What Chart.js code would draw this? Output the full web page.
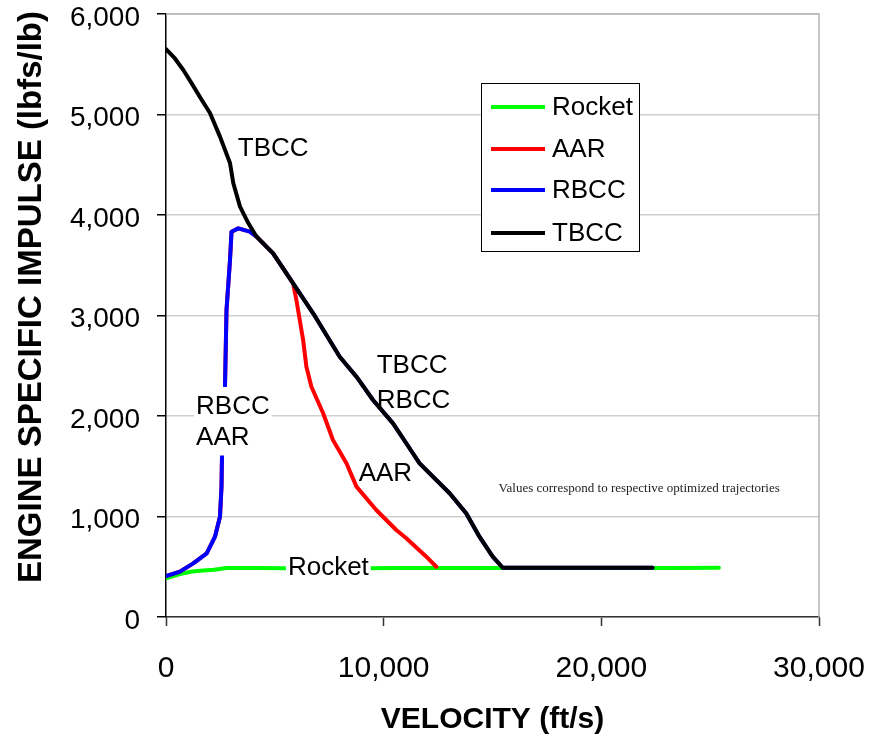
<!DOCTYPE html>
<html>
<head>
<meta charset="utf-8">
<script src="https://cdn.jsdelivr.net/npm/chart.js@4.4.1/dist/chart.umd.min.js"></script>
<style>
  html, body { margin: 0; padding: 0; background: #fff; }
</style>
</head>
<body>
<canvas id="isp" width="870" height="738"></canvas>
<script>
// axis ticks
const velocityTicks = [0, 10000, 20000, 30000];
const ispTicks = [0, 1000, 2000, 3000, 4000, 5000, 6000];

// engine specific impulse (lbfs/lb) vs velocity (ft/s)
const rocketVel = [0, 640, 1200, 1710, 2200, 2780, 4000, 5500, 7000, 9000, 11000, 13000, 15000, 17000, 19000, 21000, 23000, 25400];
const rocketIsp = [385, 428, 452, 462, 470, 488, 488, 485, 488, 485, 488, 487, 488, 488, 487, 488, 488, 490];

const aarVel = [0, 640, 1250, 1870, 2250, 2480, 2550, 2600, 2710, 2780, 2940, 3010, 3320, 3850, 4160, 4920, 5840, 5990, 6300, 6450, 6680, 7220, 7670, 8290, 8750, 9660, 10580, 11040, 11960, 12420];
const aarIsp = [408, 451, 534, 634, 799, 998, 1297, 1960, 2291, 3055, 3552, 3834, 3867, 3834, 3784, 3619, 3320, 3154, 2756, 2490, 2291, 2027, 1761, 1529, 1297, 1065, 866, 783, 600, 500];

const rbccVel = [0, 640, 1250, 1870, 2250, 2480, 2550, 2600, 2710, 2780, 2940, 3010, 3320, 3850, 4160, 4920, 5840, 6760, 7980, 8750, 9510, 10430, 11190, 11650, 13030, 13790, 14400, 15010, 15470, 22350];
const rbccIsp = [408, 451, 534, 634, 799, 998, 1297, 1960, 2291, 3055, 3552, 3834, 3867, 3834, 3784, 3619, 3320, 3022, 2590, 2391, 2159, 1927, 1679, 1529, 1231, 1032, 799, 600, 490, 490];

const tbccVel = [0, 400, 795, 1180, 1600, 2020, 2480, 2940, 3090, 3400, 3780, 4160, 4920, 5840, 6760, 7980, 8750, 9510, 10430, 11190, 11650, 13030, 13790, 14400, 15010, 15470, 22350];
const tbccIsp = [5650, 5560, 5443, 5310, 5160, 5015, 4780, 4517, 4318, 4083, 3920, 3784, 3619, 3320, 3022, 2590, 2391, 2159, 1927, 1679, 1529, 1231, 1032, 799, 600, 490, 490];

const seriesNames = ['Rocket', 'AAR', 'RBCC', 'TBCC'];
const seriesColors = ['#00ff00', '#ff0000', '#0000ff', '#000000'];

// in-plot labels, anchored at their left edge / vertical middle in data units
const plotNotes = [
  { text: 'TBCC', v: 3300, isp: 4667, bg: false },
  { text: 'RBCC', v: 1380, isp: 2100, bg: true },
  { text: 'AAR', v: 1380, isp: 1796, bg: true },
  { text: 'TBCC', v: 9680, isp: 2507, bg: false },
  { text: 'RBCC', v: 9680, isp: 2159, bg: false },
  { text: 'AAR', v: 8850, isp: 1433, bg: false },
  { text: 'Rocket', v: 5600, isp: 498, bg: true }
];
const footNote = 'Values correspond to respective optimized trajectories';

const SANS = '"Liberation Sans", Arial, sans-serif';
Chart.defaults.font.family = SANS;
Chart.defaults.color = '#000';

function toPoints(xs, ys) {
  return xs.map((x, i) => ({ x: x, y: ys[i] }));
}

const seriesData = [
  toPoints(rocketVel, rocketIsp),
  toPoints(aarVel, aarIsp),
  toPoints(rbccVel, rbccIsp),
  toPoints(tbccVel, tbccIsp)
];

const datasets = seriesNames.map((name, i) => ({
  label: name,
  data: seriesData[i],
  borderColor: seriesColors[i],
  backgroundColor: seriesColors[i],
  borderWidth: 4,
  borderJoinStyle: 'round',
  borderCapStyle: 'round',
  pointRadius: 0,
  showLine: true,
  tension: 0,
  order: seriesNames.length - i
}));

// gray top/right frame of the plot area
const plotFrame = {
  id: 'plotFrame',
  beforeDatasetsDraw(chart) {
    const { ctx, chartArea: a } = chart;
    ctx.save();
    ctx.strokeStyle = '#b4b4b4';
    ctx.lineWidth = 1.5;
    ctx.beginPath();
    ctx.moveTo(a.left, a.top);
    ctx.lineTo(a.right, a.top);
    ctx.lineTo(a.right, a.bottom);
    ctx.stroke();
    ctx.restore();
  }
};

const plotText = {
  id: 'plotText',
  afterDatasetsDraw(chart) {
    const { ctx } = chart;
    const xs = chart.scales.x, ys = chart.scales.y;
    ctx.save();
    ctx.font = '26px ' + SANS;
    ctx.textBaseline = 'middle';
    ctx.textAlign = 'left';
    plotNotes.forEach((n) => {
      const px = xs.getPixelForValue(n.v);
      const py = ys.getPixelForValue(n.isp);
      if (n.bg) {
        const w = ctx.measureText(n.text).width;
        ctx.fillStyle = '#fff';
        ctx.fillRect(px - 2, py - 19, w + 4, 38);
      }
      ctx.fillStyle = '#000';
      ctx.fillText(n.text, px, py + 1);
    });
    ctx.font = '13px "Liberation Serif", "Times New Roman", serif';
    ctx.textAlign = 'center';
    ctx.fillStyle = '#222';
    ctx.fillText(footNote, xs.getPixelForValue(21740), ys.getPixelForValue(1274));
    ctx.restore();
  }
};

const boxLegend = {
  id: 'boxLegend',
  afterDraw(chart) {
    const { ctx } = chart;
    ctx.save();
    ctx.fillStyle = '#fff';
    ctx.fillRect(481, 83, 159, 169);
    ctx.strokeStyle = '#000';
    ctx.lineWidth = 1;
    ctx.strokeRect(481.5, 83.5, 158, 168);
    ctx.font = '26px ' + SANS;
    ctx.textBaseline = 'middle';
    ctx.textAlign = 'left';
    const rows = [107, 149, 190, 233];
    chart.data.datasets.forEach((ds, i) => {
      ctx.strokeStyle = ds.borderColor;
      ctx.lineWidth = 4;
      ctx.beginPath();
      ctx.moveTo(491, rows[i]);
      ctx.lineTo(545, rows[i]);
      ctx.stroke();
      ctx.fillStyle = '#000';
      ctx.fillText(ds.label, 552, rows[i] + 1);
    });
    ctx.restore();
  }
};

const yTitle = {
  id: 'yTitle',
  afterDraw(chart) {
    const { ctx } = chart;
    ctx.save();
    ctx.translate(31, 297);
    ctx.rotate(-Math.PI / 2);
    ctx.font = 'bold 33px ' + SANS;
    ctx.textAlign = 'center';
    ctx.textBaseline = 'middle';
    ctx.fillStyle = '#000';
    ctx.fillText('ENGINE SPECIFIC IMPULSE (lbfs/lb)', 0, 1);
    ctx.restore();
  }
};

new Chart(document.getElementById('isp'), {
  type: 'scatter',
  data: { datasets: datasets },
  options: {
    responsive: false,
    animation: false,
    locale: 'en-US',
    layout: { autoPadding: false, padding: { left: 0, top: 14, right: 51, bottom: 0 } },
    plugins: {
      legend: { display: false },
      tooltip: { enabled: false }
    },
    scales: {
      x: {
        type: 'linear',
        min: 0,
        max: 30000,
        afterBuildTicks: (scale) => { scale.ticks = velocityTicks.map((v) => ({ value: v })); },
        afterFit: (scale) => {
          scale.height = 121;
          scale.paddingLeft = 0;
          scale.paddingRight = 0;
        },
        grid: { drawOnChartArea: false, tickLength: 9, tickColor: '#333', tickWidth: 1.5 },
        border: { color: '#333', width: 1.5 },
        ticks: { font: { size: 30 }, padding: 25, maxRotation: 0, color: '#000' },
        title: {
          display: true,
          text: 'VELOCITY (ft/s)',
          font: { size: 30, weight: 'bold' },
          padding: { top: 0, bottom: 0 },
          color: '#000'
        }
      },
      y: {
        type: 'linear',
        min: 0,
        max: 6000,
        afterBuildTicks: (scale) => { scale.ticks = ispTicks.map((v) => ({ value: v })); },
        afterFit: (scale) => {
          scale.width = 166;
          scale.paddingTop = 0;
          scale.paddingBottom = 0;
        },
        grid: { color: '#cfcfcf', lineWidth: 1.5, tickLength: 9, tickColor: '#000', tickWidth: 1.5 },
        border: { color: '#000', width: 1.5 },
        ticks: { font: { size: 28 }, padding: 17, labelOffset: 4, color: '#000' }
      }
    }
  },
  plugins: [plotFrame, plotText, boxLegend, yTitle]
});
</script>
</body>
</html>
